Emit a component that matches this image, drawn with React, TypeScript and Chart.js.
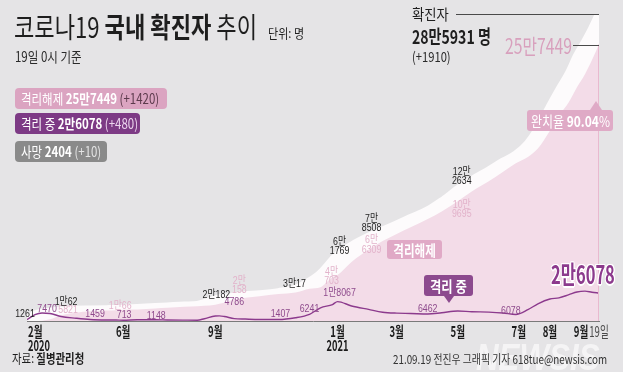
import React, { useEffect, useRef } from "react";
import { Chart, registerables } from "chart.js";

Chart.register(...registerables);

// ---------------- data ----------------
const DATES = [
  "2020-02-26", "2020-03-05", "2020-03-12", "2020-03-20", "2020-03-31", "2020-04-15", "2020-04-29",
  "2020-05-15", "2020-05-25", "2020-06-01", "2020-06-15", "2020-07-03", "2020-07-15", "2020-08-01",
  "2020-08-14", "2020-08-21", "2020-09-01", "2020-09-05", "2020-09-10", "2020-09-20", "2020-10-01",
  "2020-10-15", "2020-11-03", "2020-11-20", "2020-12-04", "2020-12-15", "2020-12-27", "2021-01-01",
  "2021-01-15", "2021-02-01", "2021-02-15", "2021-03-01", "2021-03-15", "2021-04-01", "2021-04-15",
  "2021-05-01", "2021-05-15", "2021-06-01", "2021-06-15", "2021-06-28", "2021-07-10", "2021-07-20",
  "2021-08-01", "2021-08-10", "2021-08-20", "2021-08-28", "2021-09-05", "2021-09-12", "2021-09-19",
];

// 확진자 (cumulative confirmed)
const CONFIRMED = [
  1261, 6088, 7869, 8652, 9786, 10591, 10761,
  11018, 11206, 11503, 12121, 13030, 13551, 14366,
  14873, 16670, 20182, 21177, 21588, 22783, 23889,
  24889, 26925, 30017, 36915, 44364, 56872, 61769,
  70212, 78508, 84325, 90029, 96017, 103088, 111419,
  122634, 131061, 140340, 148274, 155000, 165344, 178685,
  199787, 214914, 230783, 246951, 260000, 272221, 285931,
];

// 격리해제 (cumulative released)
const RELEASED = [
  22, 88, 333, 1540, 5408, 7757, 9072,
  9821, 10066, 10519, 10730, 11600, 12282, 13233,
  13817, 14219, 15198, 16050, 17023, 20158, 21666,
  23030, 25044, 26466, 30134, 31493, 40703, 42785,
  55027, 66309, 74575, 81122, 87331, 94889, 101937,
  111501, 120558, 130081, 138786, 146907, 152809, 160625,
  177189, 191283, 204082, 217692, 229870, 243048, 257449,
];

// 격리 중 (currently isolated)
const ISOLATED = [
  1227, 5965, 7470, 7018, 4216, 2609, 1443,
  937, 871, 713, 1114, 1148, 980, 832,
  751, 2142, 4658, 4786, 4220, 2248, 1808,
  1420, 1407, 3054, 6241, 12270, 15350, 18067,
  14000, 10779, 8200, 7300, 7000, 6462, 7700,
  9300, 8600, 8300, 7500, 6078, 10500, 16000,
  20500, 21500, 24500, 27000, 27800, 26800, 26078,
];

const TICK_DATES = [
  "2020-02-26", "2020-06-01", "2020-09-01", "2021-01-01", "2021-03-01",
  "2021-05-01", "2021-07-01", "2021-08-01", "2021-09-01", "2021-09-19",
];
const TICK_LABELS = ["2월", "6월", "9월", "1월", "3월", "5월", "7월", "8월", "9월", "19일"];
const TICK_YEARS = ["2020", "", "", "2021", "", "", "", "", "", ""];

// value labels: [date, value, text lines, dx, dy]
type Note = [string, number, string[], number, number];
const CONFIRMED_NOTES: Note[] = [
  ["2020-02-26", 1261, ["1261"], -2, -6],
  ["2020-04-03", 10062, ["1만62"], 2, -8],
  ["2020-09-01", 20182, ["2만182"], 1, -4],
  ["2020-11-20", 30017, ["3만17"], -1, -5],
  ["2021-01-01", 61769, ["6만", "1769"], 2, -8],
  ["2021-02-01", 78508, ["7만", "8508"], 3, -13],
  ["2021-05-01", 122634, ["12만", "2634"], 4, -13],
];
const ISOLATED_NOTES: Note[] = [
  ["2020-03-12", 7470, ["7470"], 5, -4],
  ["2020-04-29", 1459, ["1459"], 5, -5],
  ["2020-06-01", 713, ["713"], 1, -5],
  ["2020-07-03", 1148, ["1148"], 1, -4],
  ["2020-09-05", 4786, ["4786"], 15, -14],
  ["2020-11-03", 1407, ["1407"], 2, -6],
  ["2020-12-04", 6241, ["6241"], 0, -5],
  ["2021-01-01", 18067, ["1만8067"], 2, -9],
  ["2021-04-01", 6462, ["6462"], 0, -5],
  ["2021-06-28", 6078, ["6078"], -5, -4],
];
const RELEASED_NOTES: Note[] = [
  ["2020-04-01", 5821, ["5821"], 6, -5],
  ["2020-05-25", 10066, ["1만66"], 4, -4],
  ["2020-09-20", 20158, ["2만", "158"], 5, -14],
  ["2020-12-27", 40703, ["4만", "703"], -1, -1],
  ["2021-02-01", 66309, ["6만", "6309"], 3, -5],
  ["2021-05-01", 109695, ["10만", "9695"], 4, 6],
];

// ---------------- helpers ----------------
const START = Date.UTC(2020, 1, 26);
const dayOf = (s: string) => {
  const [y, m, d] = s.split("-").map(Number);
  return Math.round((Date.UTC(y, m - 1, d) - START) / 86400000);
};
const LAST_DAY = dayOf(DATES[DATES.length - 1]);

const FONT = "'Noto Sans CJK KR', 'Liberation Sans', sans-serif";
const NUMFONT = "'Liberation Sans', 'Noto Sans CJK KR', sans-serif";

const C_BG = "#e5e4e6";
const C_PINK_AREA = "#f3dce8";
const C_PURPLE = "#8c3a8d";
const C_FAINT = "#e2b2ca";

function drawLines(
  ctx: CanvasRenderingContext2D,
  lines: string[],
  cx: number,
  cy: number,
  font: string,
  color: string,
  sx: number,
  lineH: number,
  align: CanvasTextAlign = "center"
) {
  ctx.save();
  ctx.font = font;
  ctx.fillStyle = color;
  ctx.textBaseline = "middle";
  ctx.textAlign = align;
  const n = lines.length;
  lines.forEach((t, i) => {
    const ly = cy + (i - (n - 1) / 2) * lineH;
    ctx.save();
    ctx.translate(cx, ly);
    ctx.scale(sx, 1);
    ctx.fillText(t, 0, 0);
    ctx.restore();
  });
  ctx.restore();
}

const annotate = {
  id: "annotate",
  afterDatasetsDraw(chart: any) {
    const { ctx, chartArea } = chart;
    const x = chart.scales.x;
    const y = chart.scales.y;
    const xe = x.getPixelForValue(LAST_DAY);
    const yConf = y.getPixelForValue(CONFIRMED[CONFIRMED.length - 1]);
    const yRel = y.getPixelForValue(RELEASED[RELEASED.length - 1]);

    ctx.save();
    // right edge of released area
    ctx.strokeStyle = "#e9b9cf";
    ctx.lineWidth = 1;
    ctx.beginPath();
    ctx.moveTo(xe - 0.5, yRel);
    ctx.lineTo(xe - 0.5, chartArea.bottom);
    ctx.stroke();

    // baseline
    ctx.strokeStyle = "#7a7a7a";
    ctx.lineWidth = 1;
    ctx.beginPath();
    ctx.moveTo(chartArea.left, chartArea.bottom + 0.5);
    ctx.lineTo(chartArea.right + 1, chartArea.bottom + 0.5);
    ctx.stroke();

    // leader lines
    ctx.strokeStyle = "#4a4a4a";
    ctx.beginPath();
    ctx.moveTo(456, Math.round(yConf) + 0.5);
    ctx.lineTo(xe, Math.round(yConf) + 0.5);
    ctx.stroke();
    ctx.beginPath();
    ctx.moveTo(573, Math.round(yRel) + 0.5);
    ctx.lineTo(xe, Math.round(yRel) + 0.5);
    ctx.stroke();
    ctx.restore();

    const put = (notes: Note[], color: string) => {
      notes.forEach(([d, v, lines, dx, dy]) => {
        const px = x.getPixelForValue(dayOf(d)) + dx;
        const py = y.getPixelForValue(v) + dy;
        drawLines(ctx, lines, px, py, `11px ${NUMFONT}`, color, 0.8, 9.5);
      });
    };
    put(RELEASED_NOTES, C_FAINT);
    put(CONFIRMED_NOTES, "#1e1e1e");
    put(ISOLATED_NOTES, "#8e4a8c");

    // axis tick labels
    TICK_DATES.forEach((d, i) => {
      const px = x.getPixelForValue(dayOf(d));
      const first = i === 0;
      const isDay = TICK_LABELS[i].endsWith("일");
      const align: CanvasTextAlign = first ? "left" : "center";
      const ax = first ? chartArea.left + 1 : px;
      drawLines(
        ctx,
        [TICK_LABELS[i]],
        ax,
        chartArea.bottom + 10,
        isDay ? `15px ${FONT}` : `bold 15px ${FONT}`,
        isDay ? "#4a4a4a" : "#1a1a1a",
        0.64,
        14,
        align
      );
      if (TICK_YEARS[i]) {
        drawLines(ctx, [TICK_YEARS[i]], ax, chartArea.bottom + 24, `bold 15px ${FONT}`, "#1a1a1a", 0.62, 14, align);
      }
    });
  },
};

// ---------------- components ----------------
const T = ({ x, y, s = 1, size, bold, color = "#1e1e1e", style = {}, children }: any) => (
  <div
    style={{
      position: "absolute",
      left: x,
      top: y,
      whiteSpace: "nowrap",
      transform: `scaleX(${s})`,
      transformOrigin: "0 0",
      lineHeight: 1,
      fontFamily: FONT,
      fontSize: size,
      fontWeight: bold ? 700 : 400,
      color,
      ...style,
    }}
  >
    {children}
  </div>
);

const Box = ({ x, y, w, h, bg, s, size, children, tri }: any) => (
  <div style={{ position: "absolute", left: x, top: y, width: w, height: h }}>
    <div style={{ position: "absolute", inset: 0, background: bg, borderRadius: 3 }} />
    {tri === "up" && (
      <div
        style={{
          position: "absolute",
          left: w - 23,
          top: -9,
          width: 0,
          height: 0,
          borderLeft: "6px solid transparent",
          borderRight: "6px solid transparent",
          borderBottom: `9px solid ${bg}`,
        }}
      />
    )}
    {tri === "down" && (
      <div
        style={{
          position: "absolute",
          left: w / 2 - 5,
          top: h,
          width: 0,
          height: 0,
          borderLeft: "5px solid transparent",
          borderRight: "5px solid transparent",
          borderTop: `7px solid ${bg}`,
        }}
      />
    )}
    <div
      style={{
        position: "absolute",
        inset: 0,
        display: "flex",
        alignItems: "center",
        justifyContent: "center",
        whiteSpace: "nowrap",
      }}
    >
      <span
        style={{
          display: "inline-block",
          transform: `scaleX(${s})`,
          fontFamily: FONT,
          fontSize: size,
          lineHeight: 1,
          color: "#fff",
        }}
      >
        {children}
      </span>
    </div>
  </div>
);

const LegendBox = ({ x, y, w, bg, s, children }: any) => (
  <div style={{ position: "absolute", left: x, top: y, width: w, height: 21, background: bg, borderRadius: 4 }}>
    <div
      style={{
        position: "absolute",
        left: 6,
        top: 3,
        whiteSpace: "nowrap",
        transform: `scaleX(${s})`,
        transformOrigin: "0 0",
        fontFamily: FONT,
        fontSize: 14,
        lineHeight: "15px",
        color: "#fff",
      }}
    >
      {children}
    </div>
  </div>
);

export default function App() {
  const canvasRef = useRef<HTMLCanvasElement | null>(null);

  useEffect(() => {
    document.body.style.margin = "0";
    const canvas = canvasRef.current;
    if (!canvas) return;
    const xs = DATES.map(dayOf);
    const chart = new Chart(canvas, {
      type: "line",
      data: {
        datasets: [
          {
            label: "확진자",
            data: xs.map((d, i) => ({ x: d, y: CONFIRMED[i] })),
            fill: "origin",
            backgroundColor: "#fdfbfc",
            borderColor: "#fdfbfc",
            borderWidth: 8,
            pointRadius: 0,
            order: 3,
            cubicInterpolationMode: "monotone",
          },
          {
            label: "격리해제",
            data: xs.map((d, i) => ({ x: d, y: RELEASED[i] })),
            fill: "origin",
            backgroundColor: C_PINK_AREA,
            borderColor: "rgba(0,0,0,0)",
            borderWidth: 0,
            pointRadius: 0,
            order: 2,
            cubicInterpolationMode: "monotone",
          },
          {
            label: "격리 중",
            data: xs.map((d, i) => ({ x: d, y: ISOLATED[i] })),
            fill: false,
            borderColor: C_PURPLE,
            borderWidth: 1.4,
            pointRadius: 0,
            order: 1,
            cubicInterpolationMode: "monotone",
          },
        ],
      },
      options: {
        animation: false,
        responsive: false,
        maintainAspectRatio: false,
        layout: { padding: { left: 27, right: 24, top: 14, bottom: 67 } },
        scales: {
          x: { type: "linear", min: 0, max: LAST_DAY, display: false },
          y: { type: "linear", min: 0, max: CONFIRMED[CONFIRMED.length - 1], display: false },
        },
        plugins: { legend: { display: false }, tooltip: { enabled: false } },
      },
      plugins: [annotate],
    } as any);
    return () => chart.destroy();
  }, []);

  return (
    <div
      style={{
        position: "absolute",
        left: 0,
        top: 0,
        width: 623,
        height: 388,
        overflow: "hidden",
        background: "#ffffff",
      }}
    >
      <div style={{ position: "absolute", left: 0, top: 0, width: 623, height: 372, background: C_BG }} />
      <canvas
        ref={canvasRef}
        width={623}
        height={388}
        style={{ position: "absolute", left: 0, top: 0, width: 623, height: 388, display: "block" }}
      />

      {/* title */}
      <T x={14} y={12} s={0.79} size={28}>
        코로나19 <b>국내 확진자</b> 추이
      </T>
      <T x={268} y={26} s={0.85} size={13}>
        단위: 명
      </T>
      <T x={15} y={49} s={0.82} size={14} color="#2a2a2a">
        19일 0시 기준
      </T>

      {/* legend boxes */}
      <LegendBox x={15} y={88} w={152} bg="#dba4c1" s={0.82}>
        격리해제 <b>25만7449</b> <span style={{ color: "#5c3a4c" }}>(+1420)</span>
      </LegendBox>
      <LegendBox x={15} y={113} w={125} bg="#7d3a85" s={0.82}>
        격리 중 <b>2만6078</b> <span style={{ color: "#ecd5ee" }}>(+480)</span>
      </LegendBox>
      <LegendBox x={15} y={141} w={92} bg="#8a8a8a" s={0.82}>
        사망 <b>2404</b> <span style={{ color: "#e4e4e4" }}>(+10)</span>
      </LegendBox>

      {/* top-right totals */}
      <T x={412} y={6} s={0.89} size={15}>
        확진자
      </T>
      <T x={412} y={26} s={0.74} size={19} bold>
        28만5931 명
      </T>
      <T x={412} y={49} s={0.8} size={14} color="#2a2a2a">
        (+1910)
      </T>
      <T x={505} y={35} s={0.75} size={21} color="#d8a0bd">
        25만7449
      </T>

      {/* callouts */}
      <Box x={527} y={110} w={86} h={21} bg="#dfaac6" s={0.8} size={15} tri="up">
        완치율 <b>90.04</b>%
      </Box>
      <Box x={387} y={240} w={55} h={19} bg="#e0a9c6" s={0.77} size={15}>
        <b>격리해제</b>
      </Box>
      <Box x={424} y={275} w={49} h={21} bg="#8c4a8e" s={0.82} size={15} tri="down">
        <b>격리 중</b>
      </Box>

      <T
        x={551}
        y={261}
        s={0.66}
        size={25}
        bold
        color={C_PURPLE}
        style={{
          textShadow:
            "1.5px 0 0 #fff, -1.5px 0 0 #fff, 0 1.5px 0 #fff, 0 -1.5px 0 #fff, 1.2px 1.2px 0 #fff, -1.2px 1.2px 0 #fff, 1.2px -1.2px 0 #fff, -1.2px -1.2px 0 #fff",
        }}
      >
        2만6078
      </T>

      {/* footer */}
      <T x={12} y={351} s={0.8} size={13}>
        자료: <b>질병관리청</b>
      </T>
      <T
        x={476}
        y={340}
        s={0.87}
        size={36}
        bold
        color="rgba(255,255,255,0.6)"
        style={{ fontFamily: NUMFONT, fontStyle: "italic", fontWeight: 900 }}
      >
        NEWSIS
      </T>
      <T x={393} y={353} s={0.82} size={12} color="#333">
        21.09.19 전진우 그래픽 기자 618tue@newsis.com
      </T>
    </div>
  );
}
